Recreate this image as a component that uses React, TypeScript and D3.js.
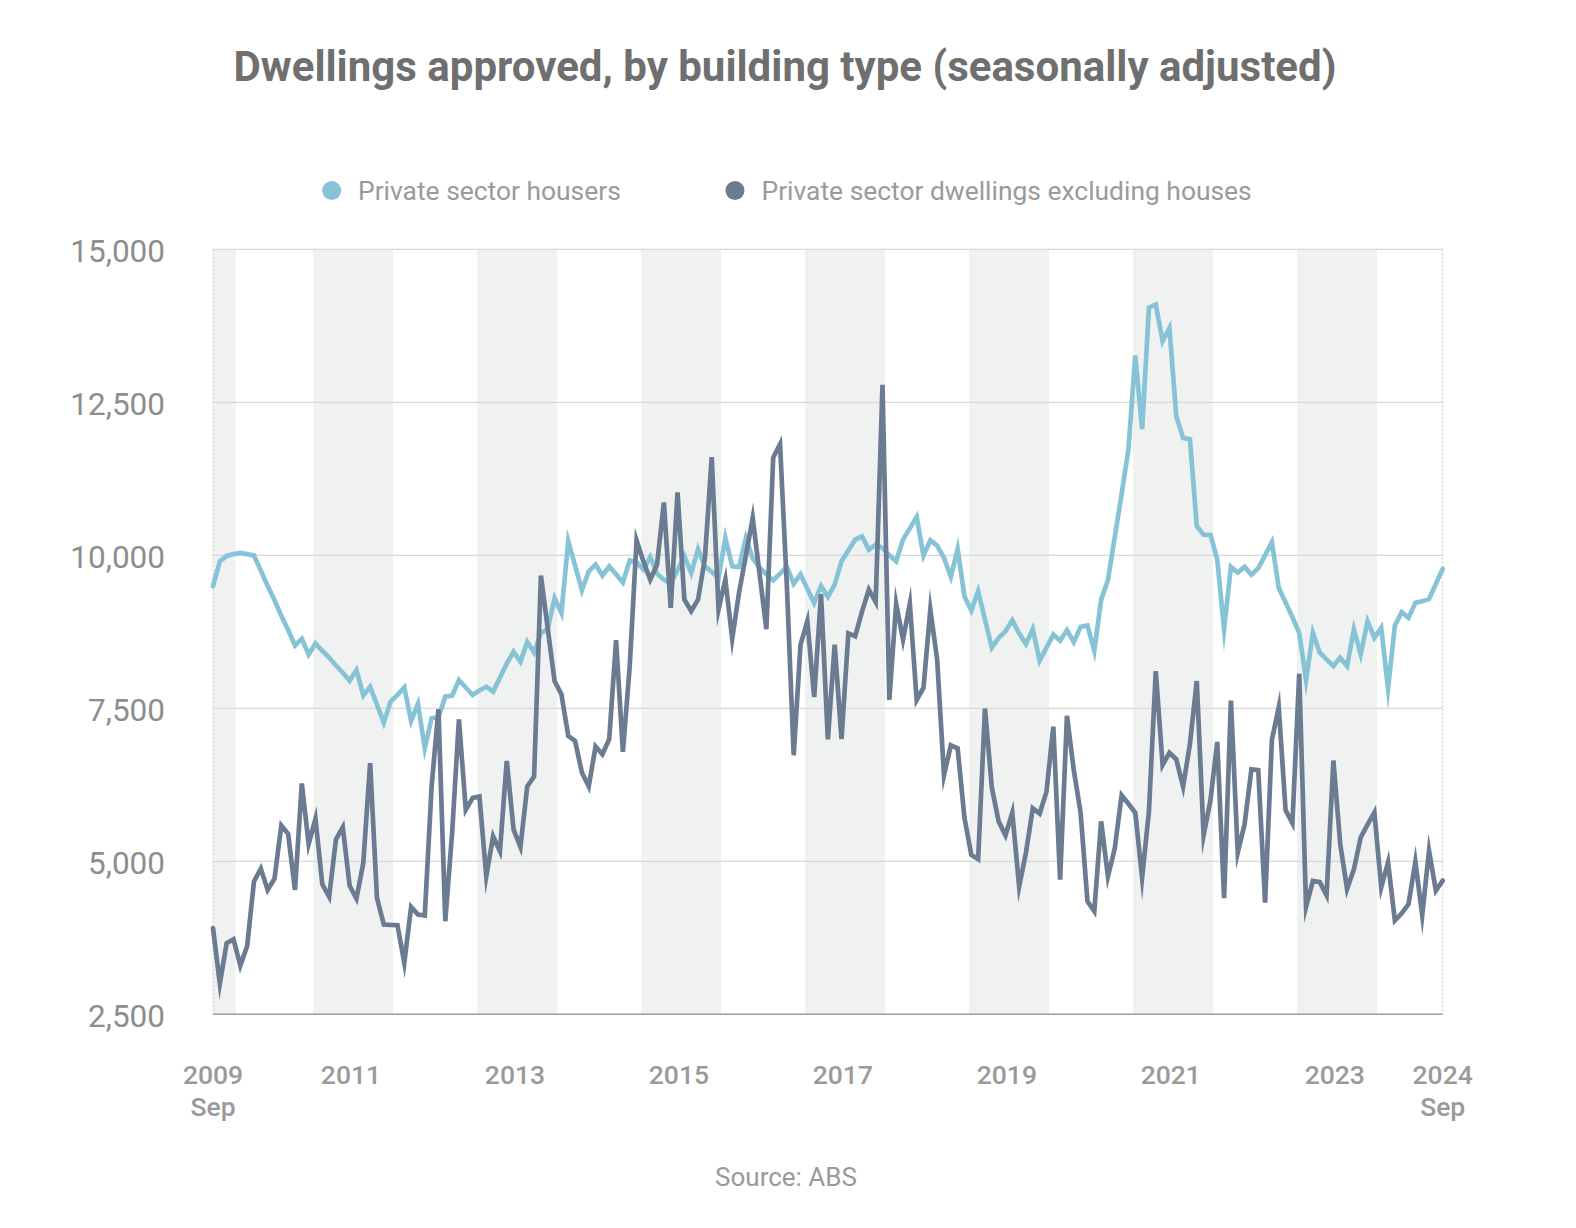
import React from "react";
import * as d3 from "d3";

// ---- Data (monthly, Sep 2009 – Sep 2024) ----
const startYear = 2009;
const startMonthIndex = 8; // September (0-based)

const privateHouses: number[] = [
  9495, 9900, 9990, 10020, 10040, 10020, 9995, 9750, 9500, 9270, 9010, 8780,
  8527, 8636, 8380, 8560, 8440, 8330, 8200, 8080, 7950, 8125, 7712, 7850,
  7560, 7266, 7609, 7720, 7842, 7293, 7571, 6848, 7337, 7353, 7690, 7706,
  7962, 7840, 7717, 7790, 7853, 7772, 8000, 8230, 8424, 8261, 8587, 8413,
  8730, 8800, 9300, 9060, 10228, 9830, 9429, 9739, 9848, 9668, 9821, 9690,
  9560, 9918, 9886, 9766, 9973, 9700, 9600, 9540, 9760, 9984, 9712, 10103,
  9821, 9730, 9630, 10283, 9821, 9810, 10283, 9950, 9800, 9690, 9592, 9700,
  9811, 9537, 9690, 9450, 9220, 9495, 9321, 9522, 9902, 10080, 10256, 10310,
  10092, 10174, 10120, 10000, 9902, 10256, 10440, 10626, 9995, 10245, 10158, 9957,
  9647, 10103, 9328, 9101, 9413, 8950, 8491, 8650, 8760, 8938, 8725, 8548,
  8796, 8278, 8490, 8704, 8604, 8775, 8583, 8831, 8853, 8441, 9271, 9598,
  10300, 11000, 11730, 13266, 12060, 14047, 14097, 13500, 13713, 12273, 11918, 11897,
  10478, 10336, 10336, 9931, 8796, 9811, 9718, 9811, 9683, 9789, 10000, 10215,
  9470, 9230, 8990, 8730, 7960, 8734, 8408, 8300, 8190, 8326, 8190, 8788,
  8380, 8924, 8652, 8815, 7821, 8853, 9071, 8978, 9223, 9250, 9288, 9530,
  9777,
];

const privateOtherDwellings: number[] = [
  3910, 3000, 3662, 3726, 3296, 3616, 4670, 4880, 4532, 4716, 5585, 5448,
  4532, 6273, 5283, 5695, 4624, 4422, 5357, 5558, 4600, 4390, 4973, 6603,
  4402, 3967, 3960, 3956, 3342, 4255, 4130, 4114, 6223, 7484, 4022, 5460,
  7320, 5842, 6033, 6060, 4755, 5407, 5163, 6641, 5516, 5234, 6223, 6386,
  9668, 8800, 7946, 7728, 7049, 6967, 6451, 6223, 6875, 6750, 6994, 8614,
  6788, 8190, 10245, 9900, 9603, 9848, 10864, 9141, 11027, 9277, 9087, 9277,
  9950, 11603, 9114, 9603, 8636, 9390, 9990, 10612, 9700, 8793, 11596, 11814,
  9500, 6733, 8541, 8924, 7683, 9365, 6991, 8541, 6997, 8724, 8678, 9079,
  9439, 9239, 12786, 7637, 9210, 8621, 9210, 7637, 7837, 9113, 8295, 6407,
  6894, 6844, 5709, 5106, 5035, 7497, 6206, 5652, 5425, 5794, 4588, 5141,
  5865, 5780, 6135, 7199, 4701, 7377, 6490, 5794, 4347, 4184, 5652, 4751,
  5212, 6078, 5940, 5794, 4730, 5816, 8108, 6575, 6774, 6667, 6220, 6915,
  7944, 5425, 5993, 6951, 4396, 7625, 5141, 5603, 6504, 6490, 4325, 6986,
  7518, 5837, 5624, 8065, 4255, 4680, 4660, 4446, 6646, 5282, 4549, 4870,
  5391, 5600, 5799, 4576, 4984, 4032, 4150, 4300, 4995, 4120, 5174, 4522,
  4685,
];

const seriesNames: string[] = [
  "Private sector housers",
  "Private sector dwellings excluding houses",
];
const yTicks: number[] = [2500, 5000, 7500, 10000, 12500, 15000];
const yearLabels: number[] = [2011, 2013, 2015, 2017, 2019, 2021, 2023];
const shadedYears: number[] = [2009, 2011, 2013, 2015, 2017, 2019, 2021, 2023];
const edgeLabels: string[][] = [
  ["2009", "Sep"],
  ["2024", "Sep"],
];
const titleText = "Dwellings approved, by building type (seasonally adjusted)";
const sourceText = "Source: ABS";

// ---- Layout ----
const W = 1576;
const H = 1228;
const plot = { left: 213, right: 1442.7, top: 249.3, bottom: 1014.3 };
const colors = {
  houses: "#86c3d6",
  other: "#6b7b91",
  band: "#f0f2f1",
  grid: "#d8d8d8",
  axis: "#9c9c9c",
  title: "#6f6f6f",
  label: "#8d8d8d",
  legend: "#9a9a9a",
};
const FONT = "Roboto, 'Noto Sans', sans-serif";

function monthIdx(year: number, month: number): number {
  return (year - startYear) * 12 + (month - startMonthIndex);
}

export default function App() {
  const n = privateHouses.length;
  const x = d3.scaleLinear().domain([0, n - 1]).range([plot.left, plot.right]);
  const y = d3.scaleLinear().domain([2500, 15000]).range([plot.bottom, plot.top]);

  const line = d3
    .line<number>()
    .x((_, i) => x(i))
    .y((d) => y(d));

  const bands = shadedYears.map((yr) => {
    const s = yr === startYear ? 0 : monthIdx(yr, 0) - 1.33;
    const e = yr === startYear ? monthIdx(yr + 1, 0) - 0.68 : monthIdx(yr + 1, 0) - 1.62;
    return { yr, x0: x(Math.max(0, s)), x1: x(Math.min(n - 1, e)) };
  });

  return (
    <svg
      width={W}
      height={H}
      style={{ position: "absolute", left: 0, top: 0, background: "#fff" }}
      fontFamily={FONT}
    >
      <rect x={0} y={0} width={W} height={H} fill="#fff" />
      <text
        x={785}
        y={81}
        textAnchor="middle"
        fontSize={42}
        fontWeight={700}
        fill={colors.title}
      >
        {titleText}
      </text>

      {/* legend */}
      <g>
        <circle cx={331.7} cy={190.5} r={9.5} fill={colors.houses} />
        <text x={358} y={199.5} fontSize={26.4} fill={colors.legend}>
          {seriesNames[0]}
        </text>
        <circle cx={735} cy={190.5} r={9.5} fill={colors.other} />
        <text x={761.5} y={199.5} fontSize={26.4} fill={colors.legend}>
          {seriesNames[1]}
        </text>
      </g>

      {/* shaded year bands */}
      {bands.map((b) => (
        <rect
          key={b.yr}
          x={b.x0}
          y={plot.top}
          width={b.x1 - b.x0}
          height={plot.bottom - plot.top}
          fill={colors.band}
        />
      ))}

      {/* gridlines */}
      {yTicks.map((t) => (
        <line
          key={t}
          x1={plot.left}
          x2={plot.right}
          y1={y(t)}
          y2={y(t)}
          stroke={t === 2500 ? colors.axis : colors.grid}
          strokeWidth={t === 2500 ? 1.6 : 1.2}
        />
      ))}
      {[plot.left, plot.right].map((xx) => (
        <line
          key={xx}
          x1={xx}
          x2={xx}
          y1={plot.top}
          y2={plot.bottom}
          stroke="#c8c8c8"
          strokeWidth={1}
          strokeDasharray="2,2"
        />
      ))}

      {/* y labels */}
      {yTicks.map((t) => (
        <text
          key={t}
          x={165}
          y={y(t)}
          dy="0.4em"
          textAnchor="end"
          fontSize={31.5}
          fill={colors.label}
        >
          {d3.format(",")(t)}
        </text>
      ))}

      {/* x labels */}
      {yearLabels.map((yr) => (
        <text
          key={yr}
          x={x(monthIdx(yr, 0) + 4.2)}
          y={1084.3}
          textAnchor="middle"
          fontSize={26.5}
          fontWeight={500}
          fill={colors.legend}
        >
          {yr}
        </text>
      ))}
      {edgeLabels.map((lab, k) => (
        <text
          key={k}
          x={k === 0 ? x(0) : x(n - 1)}
          y={1084.3}
          textAnchor="middle"
          fontSize={26.5}
          fontWeight={500}
          fill={colors.legend}
        >
          <tspan x={k === 0 ? x(0) : x(n - 1)}>{lab[0]}</tspan>
          <tspan x={k === 0 ? x(0) : x(n - 1)} dy={32}>
            {lab[1]}
          </tspan>
        </text>
      ))}

      {/* series */}
      <path
        d={line(privateHouses) || ""}
        fill="none"
        stroke={colors.houses}
        strokeWidth={4.7}
        strokeLinejoin="miter"
        strokeMiterlimit={10}
        strokeLinecap="round"
      />
      <path
        d={line(privateOtherDwellings) || ""}
        fill="none"
        stroke={colors.other}
        strokeWidth={4.7}
        strokeLinejoin="miter"
        strokeMiterlimit={10}
        strokeLinecap="round"
      />

      <text x={786} y={1186} textAnchor="middle" fontSize={26} fill={colors.legend}>
        {sourceText}
      </text>
    </svg>
  );
}
